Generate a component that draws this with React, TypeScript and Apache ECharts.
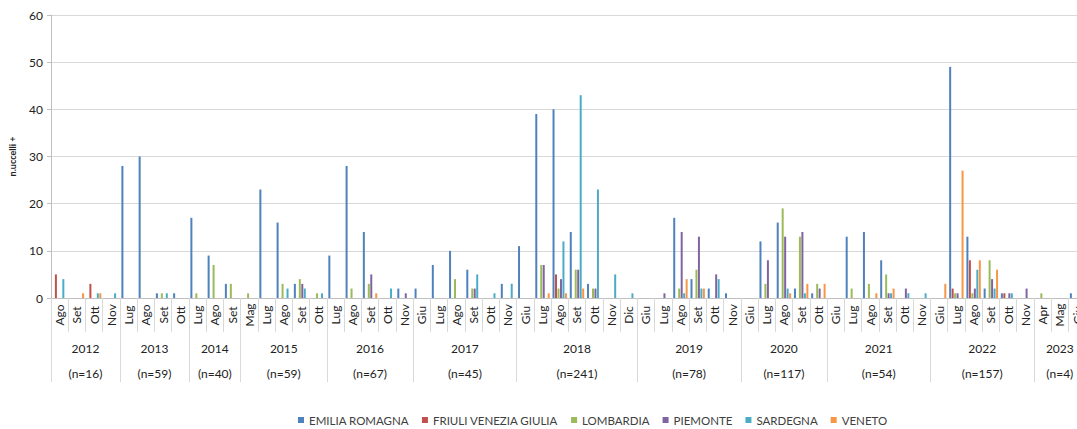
import React, { useEffect, useRef } from "react";
import * as echarts from "echarts";

const years = ["2012", "2013", "2014", "2015", "2016", "2017", "2018", "2019", "2020", "2021", "2022", "2023"];
const yearN = ["(n=16)", "(n=59)", "(n=40)", "(n=59)", "(n=67)", "(n=45)", "(n=241)", "(n=78)", "(n=117)", "(n=54)", "(n=157)", "(n=4)"];
const monthsByYear = [
  ["Ago", "Set", "Ott", "Nov"],
  ["Lug", "Ago", "Set", "Ott"],
  ["Lug", "Ago", "Set"],
  ["Mag", "Lug", "Ago", "Set", "Ott"],
  ["Lug", "Ago", "Set", "Ott", "Nov"],
  ["Giu", "Lug", "Ago", "Set", "Ott", "Nov"],
  ["Giu", "Lug", "Ago", "Set", "Ott", "Nov", "Dic"],
  ["Giu", "Lug", "Ago", "Set", "Ott", "Nov"],
  ["Giu", "Lug", "Ago", "Set", "Ott"],
  ["Giu", "Lug", "Ago", "Set", "Ott", "Nov"],
  ["Giu", "Lug", "Ago", "Set", "Ott", "Nov"],
  ["Apr", "Mag", "Giu"],
];

const seriesNames = ["EMILIA ROMAGNA", "FRIULI VENEZIA GIULIA", "LOMBARDIA", "PIEMONTE", "SARDEGNA", "VENETO"];
const seriesColors = ["#4F81BD", "#C0504D", "#9BBB59", "#8064A2", "#4BACC6", "#F79646"];

// values per month, in the order of monthsByYear (60 months)
const emilia = [
  0, 0, 0, 0,
  28, 30, 1, 1,
  17, 9, 3,
  0, 23, 16, 3, 0,
  9, 28, 14, 0, 2,
  2, 7, 10, 6, 0, 3,
  11, 39, 40, 14, 3, 0, 0,
  0, 0, 17, 4, 2, 1,
  0, 12, 16, 2, 1,
  0, 13, 14, 8, 0, 0,
  0, 49, 13, 2, 1, 0,
  0, 0, 1,
];
const friuli = [
  5, 0, 3, 0,
  0, 0, 0, 0,
  0, 0, 0,
  0, 0, 0, 0, 0,
  0, 0, 0, 0, 0,
  0, 0, 0, 0, 0, 0,
  0, 0, 5, 0, 0, 0, 0,
  0, 0, 0, 0, 0, 0,
  0, 0, 0, 0, 0,
  0, 0, 0, 0, 0, 0,
  0, 2, 8, 0, 1, 0,
  0, 0, 0,
];
const lombardia = [
  0, 0, 0, 0,
  0, 0, 1, 0,
  1, 7, 3,
  1, 0, 3, 4, 1,
  0, 2, 3, 0, 0,
  0, 0, 4, 2, 0, 0,
  0, 7, 2, 6, 2, 0, 0,
  0, 0, 2, 6, 0, 0,
  0, 3, 19, 13, 3,
  0, 2, 3, 5, 0, 0,
  0, 1, 1, 8, 0, 0,
  1, 0, 0,
];
const piemonte = [
  0, 0, 0, 0,
  0, 0, 0, 0,
  0, 0, 0,
  0, 0, 0, 3, 0,
  0, 0, 5, 0, 1,
  0, 0, 0, 2, 0, 0,
  0, 7, 4, 6, 2, 0, 0,
  0, 1, 14, 13, 5, 0,
  0, 8, 13, 14, 2,
  0, 0, 0, 1, 2, 0,
  0, 1, 2, 4, 1, 2,
  0, 0, 1,
];
const sardegna = [
  4, 0, 1, 1,
  0, 0, 1, 0,
  0, 0, 0,
  0, 0, 2, 2, 1,
  0, 0, 0, 2, 0,
  0, 0, 0, 5, 1, 3,
  0, 0, 12, 43, 23, 5, 1,
  0, 0, 1, 2, 4, 0,
  0, 0, 2, 1, 0,
  0, 0, 0, 1, 1, 1,
  0, 0, 6, 2, 1, 0,
  0, 0, 0,
];
const veneto = [
  0, 1, 1, 0,
  0, 0, 0, 0,
  0, 0, 0,
  0, 0, 0, 0, 0,
  0, 0, 1, 0, 0,
  0, 0, 0, 0, 0, 0,
  0, 1, 1, 2, 0, 0, 0,
  0, 0, 4, 2, 0, 0,
  0, 0, 1, 3, 3,
  0, 0, 1, 2, 0, 0,
  3, 27, 8, 6, 0, 0,
  0, 0, 0,
];
const seriesValues = [emilia, friuli, lombardia, piemonte, sardegna, veneto];

const yTicks = { min: 0, max: 60, interval: 10 };
const FONT = "Lato, 'Liberation Sans', sans-serif";

export default function App() {
  const ref = useRef<HTMLDivElement>(null);

  useEffect(() => {
    if (!ref.current) return;
    const chart = echarts.init(ref.current, undefined, { renderer: "svg" });

    // month categories (unique keys)
    const monthKeys: string[] = [];
    const monthLabel: Record<string, string> = {};
    const yearStarts: number[] = [];
    monthsByYear.forEach((ms) => {
      yearStarts.push(monthKeys.length);
      ms.forEach((m) => {
        const k = "m" + monthKeys.length;
        monthKeys.push(k);
        monthLabel[k] = m;
      });
    });
    const total = monthKeys.length;

    // half-month points for year labels and separators
    const halfKeys: string[] = [];
    for (let i = 0; i <= total * 2; i++) halfKeys.push("h" + i);
    const halfLabel: Record<string, string> = {};
    const halfTick = new Set<number>();
    monthsByYear.forEach((ms, yi) => {
      const s = yearStarts[yi];
      halfTick.add(2 * s);
      halfLabel["h" + (2 * s + ms.length)] = `{y|${years[yi]}}\n{n|${yearN[yi]}}`;
    });
    halfTick.add(total * 2);

    chart.setOption({
      animation: false,
      textStyle: { fontFamily: FONT },
      grid: { left: 46.5, right: 4.3, top: 15, bottom: 131, containLabel: false },
      legend: {
        data: seriesNames,
        left: 293,
        top: 409,
        icon: "rect",
        itemWidth: 6,
        itemHeight: 6,
        itemGap: 13,
        textStyle: { fontSize: 11.5, color: "#404040", fontFamily: FONT },
      },
      xAxis: [
        {
          type: "category",
          data: monthKeys,
          position: "bottom",
          boundaryGap: true,
          axisLine: { show: true, lineStyle: { color: "#BFBFBF", width: 1 } },
          axisTick: { show: true, interval: 0, length: 34, lineStyle: { color: "#D9D9D9" } },
          axisLabel: {
            interval: 0,
            rotate: 90,
            align: "center",
            verticalAlign: "middle",
            margin: 17,
            fontSize: 12,
            color: "#222",
            fontFamily: FONT,
            formatter: (v: string) => monthLabel[v] || "",
          },
          splitLine: { show: false },
        },
        {
          type: "category",
          data: halfKeys,
          position: "bottom",
          boundaryGap: false,
          axisLine: { show: false },
          axisTick: {
            show: true,
            length: 84,
            interval: (i: number) => halfTick.has(i),
            lineStyle: { color: "#D9D9D9" },
          },
          axisLabel: {
            margin: 38,
            interval: (i: number, v: string) => !!halfLabel[v],
            formatter: (v: string) => halfLabel[v] || "",
            color: "#222",
            fontFamily: FONT,
            rich: {
              y: { fontSize: 12, lineHeight: 25, color: "#222", fontFamily: FONT },
              n: { fontSize: 12, lineHeight: 25, color: "#222", fontFamily: FONT },
            },
          },
          splitLine: { show: false },
        },
      ],
      yAxis: {
        type: "value",
        min: yTicks.min,
        max: yTicks.max,
        interval: yTicks.interval,
        name: "n.uccelli +",
        nameLocation: "middle",
        nameGap: 34,
        nameTextStyle: { fontSize: 9, fontWeight: "bold", color: "#222", fontFamily: FONT },
        axisLine: { show: true, lineStyle: { color: "#BFBFBF" } },
        axisTick: { show: true, length: 4, lineStyle: { color: "#BFBFBF" } },
        axisLabel: { fontSize: 12, color: "#222", margin: 8, fontFamily: FONT },
        splitLine: { show: true, lineStyle: { color: "#D9D9D9", width: 1 } },
      },
      series: seriesNames.map((name, i) => ({
        name,
        type: "bar",
        xAxisIndex: 0,
        data: seriesValues[i],
        barWidth: 2,
        barGap: "24%",
        itemStyle: { color: seriesColors[i] },
      })),
    });

    return () => chart.dispose();
  }, []);

  return (
    <div
      style={{
        position: "fixed",
        left: 0,
        top: 0,
        width: 1077,
        height: 429,
        overflow: "hidden",
        background: "#fff",
      }}
    >
      <div ref={ref} style={{ width: 1090, height: 429 }} />
    </div>
  );
}
